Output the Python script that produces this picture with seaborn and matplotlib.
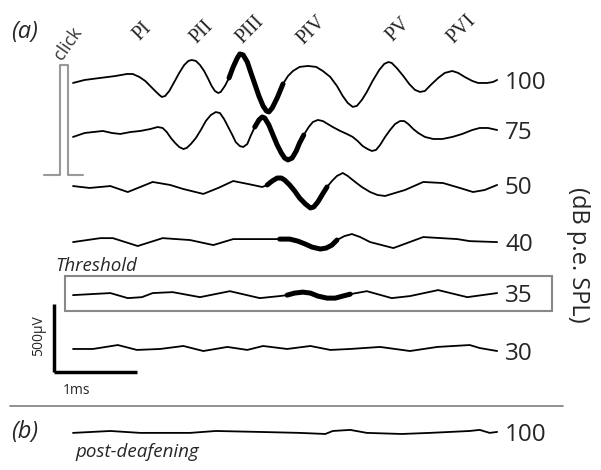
import numpy as np
import pandas as pd
import matplotlib
matplotlib.use("Agg")
import matplotlib.pyplot as plt
from matplotlib.patches import Rectangle
import seaborn as sns

# ABR traces, time in ms after the click, amplitude in uV (relative to trace baseline)
levels = ["100", "75", "50", "40", "35", "30", "100"]
offsets = [-610, -1000, -1375, -1780, -2170, -2566, -3176]  # vertical placement of each trace (uV)

t_100 = [0.00, 0.14, 0.33, 0.51, 0.65, 0.72, 0.80, 0.87, 0.93, 0.99, 1.04, 1.07, 1.11, 1.16, 1.22,
         1.28, 1.34, 1.39, 1.43, 1.48, 1.53, 1.58, 1.63, 1.67, 1.71, 1.75, 1.78, 1.83, 1.88, 1.93,
         1.98, 2.01, 2.05, 2.10, 2.14, 2.19, 2.24, 2.29, 2.33, 2.36, 2.40, 2.46, 2.53, 2.59, 2.65,
         2.73, 2.83, 2.93, 3.01, 3.10, 3.18, 3.25, 3.31, 3.37, 3.42, 3.48, 3.54, 3.61, 3.69, 3.75,
         3.80, 3.84, 3.90, 3.98, 4.05, 4.12, 4.18, 4.24, 4.31, 4.40, 4.48, 4.57, 4.64, 4.72, 4.81,
         4.88, 4.99, 5.06, 5.11]
v_100 = [0, 22, 37, 51, 66, 66, 44, 15, -22, -59, -88, -103, -96, -59, 7,
         74, 132, 162, 169, 162, 132, 88, 29, -22, -59, -74, -66, -22, 37, 118,
         184, 213, 206, 154, 81, -7, -96, -169, -206, -213, -184, -110, -7, 51, 88,
         118, 125, 118, 88, 44, -22, -96, -147, -176, -169, -125, -66, 15, 96, 140,
         154, 147, 110, 51, -7, -51, -66, -59, -15, 37, 74, 88, 74, 44, 15,
         0, 0, 7, 22]

t_75 = [0.00, 0.14, 0.24, 0.36, 0.47, 0.57, 0.69, 0.81, 0.93, 1.02, 1.08, 1.13, 1.18, 1.23, 1.28,
        1.33, 1.37, 1.42, 1.48, 1.54, 1.60, 1.66, 1.72, 1.77, 1.82, 1.87, 1.92, 1.96, 2.01, 2.05,
        2.10, 2.14, 2.19, 2.24, 2.28, 2.31, 2.36, 2.41, 2.46, 2.51, 2.55, 2.59, 2.64, 2.69, 2.73,
        2.78, 2.84, 2.89, 2.95, 3.01, 3.07, 3.13, 3.22, 3.30, 3.37, 3.43, 3.49, 3.55, 3.60, 3.65,
        3.70, 3.76, 3.82, 3.88, 3.94, 3.99, 4.04, 4.10, 4.16, 4.24, 4.34, 4.45, 4.57, 4.69, 4.81,
        4.90, 5.00, 5.11]
v_75 = [-7, 22, 29, 37, 22, 15, 29, 37, 51, 66, 59, 29, -15, -51, -81,
        -96, -88, -59, -15, 44, 110, 154, 176, 169, 125, 66, 7, -44, -74, -81,
        -59, 0, 66, 118, 140, 132, 81, 7, -66, -125, -162, -176, -162, -110, -51,
        7, 66, 103, 118, 110, 88, 66, 37, 15, -7, -37, -74, -96, -110, -103,
        -66, -7, 44, 88, 110, 110, 88, 51, 22, -7, -22, -22, -7, 15, 44,
        59, 59, 44]

t_50 = [0.00, 0.20, 0.45, 0.66, 0.96, 1.17, 1.33, 1.57, 1.75, 1.93, 2.11, 2.28, 2.34, 2.40, 2.46,
        2.51, 2.55, 2.61, 2.67, 2.73, 2.80, 2.86, 2.90, 2.95, 3.00, 3.06, 3.12, 3.18, 3.25, 3.31,
        3.40, 3.48, 3.58, 3.67, 3.76, 4.00, 4.22, 4.46, 4.66, 4.82, 4.96, 5.11]
v_50 = [7, -7, 7, -37, 37, 15, -15, -51, -7, 44, 22, 0, 15, 44, 66,
        66, 51, 15, -29, -81, -125, -154, -147, -110, -59, 0, 44, 81, 103, 81,
        37, 0, -37, -59, -66, -22, 37, 29, -7, -37, -22, 15]

t_40 = [0.00, 0.33, 0.48, 0.78, 1.08, 1.41, 1.69, 1.93, 2.25, 2.49, 2.61, 2.71, 2.80, 2.88, 2.98,
        3.05, 3.12, 3.18, 3.27, 3.36, 3.46, 3.58, 3.86, 4.22, 4.63, 4.78, 5.11]
v_40 = [0, 29, 29, -29, 29, 15, -22, 22, 22, 22, 22, 7, -15, -37, -51,
        -44, -22, 15, 44, 59, 37, 0, -44, 37, 22, 7, 0]

t_35 = [0.00, 0.45, 0.66, 0.83, 0.96, 1.20, 1.53, 1.89, 2.25, 2.49, 2.58, 2.67, 2.77, 2.86, 2.95,
        3.06, 3.16, 3.25, 3.34, 3.54, 3.84, 4.06, 4.40, 4.75, 5.11]
v_35 = [0, 15, -22, -15, 15, 22, -15, 29, -22, -7, 0, 15, 22, 15, -7,
        -22, -22, -7, 7, 29, -22, -7, 37, -15, 15]

t_30 = [0.00, 0.24, 0.54, 0.77, 1.05, 1.33, 1.57, 1.86, 2.10, 2.29, 2.58, 2.86, 3.10, 3.34, 3.70,
        4.06, 4.39, 4.78, 4.90, 5.11]
v_30 = [0, 0, 29, -7, 0, 22, -15, 15, -7, 22, 0, 22, -7, 0, 15,
        -15, 15, 29, 7, -15]

t_post = [0.00, 0.45, 0.81, 1.41, 1.72, 2.25, 2.73, 3.04, 3.13, 3.34, 3.54, 3.96, 4.30, 4.78, 4.90,
          5.02, 5.11]
v_post = [-7, 7, -7, -7, 7, 0, -7, -15, 7, 15, -7, -15, -7, 7, 15,
          -7, 0]

traces_t = [t_100, t_75, t_50, t_40, t_35, t_30, t_post]
traces_v = [v_100, v_75, v_50, v_40, v_35, v_30, v_post]
for tt, vv in zip(traces_t, traces_v):
    assert len(tt) == len(vv), (len(tt), len(vv))

# wave III/IV highlighted segment (ms)
bold_windows = [(1.88, 2.53), (2.19, 2.78), (2.34, 3.06), (2.49, 3.18), (2.58, 3.34), None, None]

peak_names = ["PI", "PII", "PIII", "PIV", "PV", "PVI"]

# click stimulus (ms, uV)
click_t = [-0.35, -0.16, -0.16, -0.06, -0.06, 0.12]
click_v = [-1287, -1287, -478, -478, -1287, -1287]

rows = []
for i, (tt, vv) in enumerate(zip(traces_t, traces_v)):
    for t, v in zip(tt, vv):
        rows.append({"trace": i, "t": t, "v": v + offsets[i]})
df = pd.DataFrame(rows)

sns.set_style("white")
fig = plt.figure(figsize=(6.01, 4.70), dpi=100)
ax = fig.add_axes([0, 0, 1, 1])
ax.set_axis_off()

# pixel -> data helpers for placing annotations (83 px per ms, 68 px per 500 uV)
def px_t(x):
    return (x - 73) / 83.0

def px_v(y):
    return -y * 500 / 68.0

ax.set_xlim(px_t(0), px_t(601))
ax.set_ylim(px_v(470), px_v(0))

line_kw = dict(estimator=None, sort=False, legend=False,
               solid_joinstyle="round", solid_capstyle="round")

for i in range(len(levels)):
    d = df[df["trace"] == i]
    sns.lineplot(data=d, x="t", y="v", ax=ax, color="black", lw=1.3, **line_kw)
    if bold_windows[i] is not None:
        a, b = bold_windows[i]
        db = d[(d["t"] >= a) & (d["t"] <= b)]
        sns.lineplot(data=db, x="t", y="v", ax=ax, color="black", lw=3.6, **line_kw)
    ax.text(px_t(505), d["v"].iloc[-1], levels[i], fontsize=17.5,
            family="Open Sans", ha="left", va="center_baseline")

# click stimulus
sns.lineplot(x=click_t, y=click_v, ax=ax, color="#999999", lw=1.5,
             estimator=None, sort=False, legend=False)
ax.text(px_t(68), px_v(44), "click", rotation=55, fontsize=13, color="#333333",
        family="Open Sans", ha="center", va="center")

# peak labels
peak_px = [(143, 32), (202, 32), (250, 30), (312, 30), (398, 30), (462, 29)]
for name, (x, y) in zip(peak_names, peak_px):
    ax.text(px_t(x), px_v(y), name, rotation=45, fontsize=14.5,
            family="Liberation Serif", ha="center", va="center")

# scale bars: 1 ms and 500 uV
ax.plot([px_t(54), px_t(54) + 1.0], [px_v(372), px_v(372)], color="black", lw=2.5,
        solid_capstyle="butt")
ax.plot([px_t(54), px_t(54)], [px_v(372), px_v(372) + 500], color="black", lw=2.5,
        solid_capstyle="butt")
ax.text(px_t(39), px_v(336), "500µV", rotation=90, fontsize=10, family="Open Sans",
        ha="center", va="center")
ax.text(px_t(63), px_v(390), "1ms", fontsize=10, family="Open Sans",
        ha="left", va="center")

# threshold box
ax.add_patch(Rectangle((px_t(65), px_v(311)), px_t(552) - px_t(65), px_v(276) - px_v(311),
                       fill=False, edgecolor="#888888", lw=1.5))
ax.text(px_t(55), px_v(266), "Threshold", fontsize=13.5, style="italic",
        family="Open Sans", ha="left", va="center")

# separator between panels
ax.plot([px_t(10), px_t(563)], [px_v(406), px_v(406)], color="#888888", lw=1.3)

ax.text(px_t(11), px_v(32), "(a)", fontsize=17, style="italic", family="Open Sans",
        ha="left", va="center")
ax.text(px_t(11), px_v(432), "(b)", fontsize=17, style="italic", family="Open Sans",
        ha="left", va="center")
ax.text(px_t(75), px_v(452), "post-deafening", fontsize=13.5, style="italic",
        family="Open Sans", ha="left", va="center")
ax.text(px_t(578), px_v(255), "(dB p.e. SPL)", rotation=270, fontsize=17,
        family="Open Sans", ha="center", va="center")

fig.savefig("out.png", dpi=100, facecolor="white")
